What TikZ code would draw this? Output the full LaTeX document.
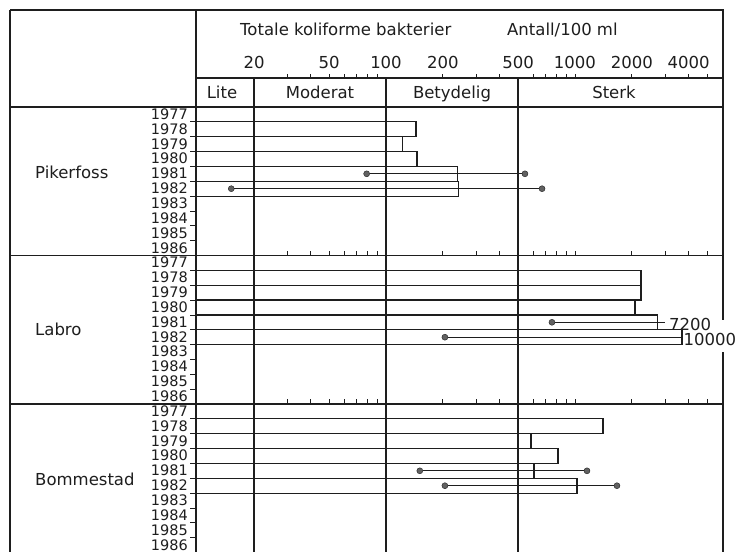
\documentclass[tikz,border=0pt]{standalone}
\usepackage{fontspec}
\setmainfont{DejaVu Sans}
\usepackage{xcolor}
\definecolor{ink}{HTML}{1E1E1E}
\usepackage{tikz}
\usetikzlibrary{positioning}
\newcommand{\lx}[1]{386+188.9*log10(#1/100)}
\tikzset{%
  frameLine/.style={%
    draw=ink,
    line width=2pt
  },
  gridLine/.style={%
    draw=ink,
    line width=1.2pt
  },
  barBox/.style={%
    draw=ink,
    line width=1.2pt
  },
  rangeLine/.style={%
    draw=ink,
    line width=0.8pt
  },
  rangeDot/.style={%
    circle,
    draw=ink,
    fill=ink!70,
    inner sep=0pt,
    minimum size=6pt
  },
  tickMark/.style={%
    draw=ink,
    line width=0.8pt
  },
  headLabel/.style={%
    font=\fontsize{16.5}{16.5}\selectfont,
    text=ink,
    inner sep=0pt,
    anchor=base
  },
  yearLabel/.style={%
    font=\fontsize{14.5}{14.5}\selectfont,
    text=ink,
    inner sep=0pt,
    anchor=base east
  },
  stationLabel/.style={%
    font=\fontsize{16.5}{16.5}\selectfont,
    text=ink,
    inner sep=0pt,
    anchor=base west
  }
}

\begin{document}
\begin{tikzpicture}[x=1pt, y=-1pt]
  \useasboundingbox (0,0) rectangle (740,552);
  \fill[white] (0,0) rectangle (740,552);

  % frame and grid
  \draw[frameLine, line width=2.6pt] (10,552) -- (10,10);
  \draw[frameLine] (10,10) -- (723,10) -- (723,320);
  \draw[frameLine] (723,352) -- (723,552);
  \draw[gridLine] (196,10) -- (196,552);
  \draw[gridLine] (196,78) -- (723,78);
  \foreach \v in {20,100,500}
    \draw[gridLine] ({\lx{\v}},78) -- ({\lx{\v}},552);
  \foreach \yy in {107,255.5,404}
    \draw[gridLine] (10,\yy) -- (723,\yy);

  % header
  \node[headLabel, anchor=base west] (title) at (240,35) {Totale koliforme bakterier};
  \node[headLabel, anchor=base west] (unit) at (507,35) {Antall/100 ml};
  \foreach \v in {20,50,100,200,500,1000,2000,4000}
    \node[headLabel] (num\v) at ({\lx{\v}},68) {\v};
  \foreach \v in {30,40,50,60,70,80,90,200,300,400,600,700,800,900,1000,2000,3000,4000,5000}
    \draw[tickMark] ({\lx{\v}},78) -- ++(0,-4);
  \node[headLabel] (lite) at (222,98) {Lite};
  \node[headLabel] (moderat) at (320,98) {Moderat};
  \node[headLabel] (betydelig) at (452,98) {Betydelig};
  \node[headLabel] (sterk) at (614,98) {Sterk};

  % years and scale ticks of each station
  \foreach \s/\yy in {0/0,1/148.5,2/297} {
    \begin{scope}[yshift=-\yy pt]
      \foreach \yr [count=\i] in {1977,...,1986} {
        \node[yearLabel] (yr\s-\yr) at (188,{107+14.85*\i-2.5}) {\yr};
        \draw[tickMark] (190,{107+14.85*\i}) -- (196,{107+14.85*\i});
      }
    \end{scope}
  }
  \foreach \yy in {255.5,404}
    \foreach \v in {30,40,50,60,70,80,90,200,300,400,600,700,800,900,1000,2000,3000,4000,5000}
      \draw[tickMark] ({\lx{\v}},\yy) -- ++(0,-5);

  % Pikerfoss
  \node[stationLabel] (pikerfoss) at (35,178.5) {Pikerfoss};
  \foreach \val [count=\i] in {144,122,146,238,243}
    \draw[barBox] (196,{107+14.85*\i}) rectangle ({\lx{\val}},{107+14.85*(\i+1)});
  \node[rangeDot] (pik81lo) at ({\lx{79}},173.8) {};
  \node[rangeDot] (pik81hi) at ({\lx{544}},173.8) {};
  \draw[rangeLine] (pik81lo) -- (pik81hi);
  \node[rangeDot] (pik82lo) at ({\lx{15}},188.7) {};
  \node[rangeDot] (pik82hi) at ({\lx{670}},188.7) {};
  \draw[rangeLine] (pik82lo) -- (pik82hi);

  % Labro
  \node[stationLabel] (labro) at (35,335) {Labro};
  \begin{scope}[yshift=-148.5pt]
    \foreach \val [count=\i] in {2240,2240,2080,2750,3690}
      \draw[barBox] (196,{107+14.85*\i}) rectangle ({\lx{\val}},{107+14.85*(\i+1)});
    \node[rangeDot] (lab81lo) at ({\lx{756}},173.8) {};
    \coordinate (lab81hi) at (665,173.8);
    \draw[rangeLine] (lab81lo) -- (lab81hi);
    \node[headLabel, anchor=base west] (lab81max) at (669,181.5) {7200};
    \node[rangeDot] (lab82lo) at ({\lx{205}},188.7) {};
    \coordinate (lab82hi) at ({\lx{3690}},188.7);
    \draw[rangeLine] (lab82lo) -- (lab82hi);
    \node[headLabel, anchor=base west] (lab82max) at ({\lx{3690}+1.5},196.5) {10000};
  \end{scope}

  % Bommestad
  \node[stationLabel] (bommestad) at (35,485) {Bommestad};
  \begin{scope}[yshift=-297pt]
    \foreach \val [count=\i] in {1410,586,814,607,1026}
      \draw[barBox] (196,{107+14.85*\i}) rectangle ({\lx{\val}},{107+14.85*(\i+1)});
    \node[rangeDot] (bom81lo) at ({\lx{151}},173.8) {};
    \node[rangeDot] (bom81hi) at ({\lx{1159}},173.8) {};
    \draw[rangeLine] (bom81lo) -- (bom81hi);
    \node[rangeDot] (bom82lo) at ({\lx{205}},188.7) {};
    \node[rangeDot] (bom82hi) at ({\lx{1670}},188.7) {};
    \draw[rangeLine] (bom82lo) -- (bom82hi);
  \end{scope}

\end{tikzpicture}
\end{document}
